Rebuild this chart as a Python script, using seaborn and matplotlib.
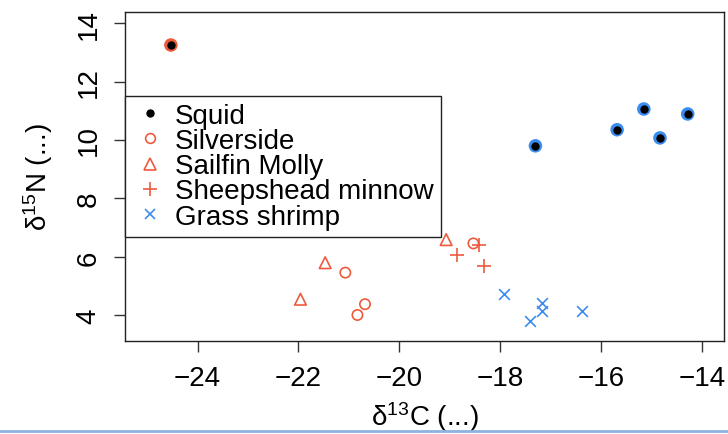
#!/usr/bin/env python3
"""Stable isotope biplot: d13C vs d15N for estuary species."""

import numpy as np
import pandas as pd
import matplotlib
matplotlib.use("Agg")
import matplotlib.pyplot as plt
from matplotlib.lines import Line2D
import seaborn as sns

# Data
squid_c = [-24.53, -17.30, -15.68, -15.15, -14.83, -14.28]
squid_n = [13.25, 9.80, 10.35, 11.06, 10.07, 10.89]
squid_ring = ["red", "blue", "blue", "blue", "blue", "blue"]

silverside_c = [-21.07, -20.83, -20.68, -18.53]
silverside_n = [5.46, 4.01, 4.38, 6.46]

molly_c = [-21.96, -21.47, -19.07]
molly_n = [4.55, 5.80, 6.59]

minnow_c = [-18.41, -18.86, -18.32]
minnow_n = [6.42, 6.08, 5.70]

shrimp_c = [-17.93, -17.40, -17.16, -17.17, -16.37]
shrimp_n = [4.72, 3.82, 4.41, 4.15, 4.15]

x_ticks = [-24, -22, -20, -18, -16, -14]
y_ticks = [4, 6, 8, 10, 12, 14]

RED = "#EE5A3C"
BLUE = "#3C8CF0"
FS = 20

sns.set_theme(style="ticks")
plt.rcParams["font.family"] = ["Liberation Sans", "DejaVu Sans"]
plt.rcParams["mathtext.default"] = "regular"
plt.rcParams["text.color"] = "black"
plt.rcParams["axes.labelcolor"] = "black"
plt.rcParams["xtick.color"] = "black"
plt.rcParams["ytick.color"] = "black"

fig = plt.figure(figsize=(7.28, 4.35), dpi=100)
ax = fig.add_axes([0.1717, 0.2138, 0.8228, 0.757])

# squid: coloured ring underneath, black dot on top
squid = pd.DataFrame({"c": squid_c, "n": squid_n, "ring": squid_ring})
sns.scatterplot(data=squid, x="c", y="n", hue="ring",
                palette={"red": RED, "blue": BLUE}, s=95, linewidth=0,
                legend=False, ax=ax, zorder=3)
sns.scatterplot(x=squid_c, y=squid_n, color="black", s=36, linewidth=0,
                ax=ax, zorder=4)

sns.scatterplot(x=silverside_c, y=silverside_n, marker="o", s=55,
                facecolor="none", edgecolor=RED, linewidth=1.2, ax=ax)
sns.scatterplot(x=molly_c, y=molly_n, marker="^", s=70,
                facecolor="none", edgecolor=RED, linewidth=1.2, ax=ax)
sns.scatterplot(x=minnow_c, y=minnow_n, marker="+", s=90,
                color=RED, linewidth=1.2, ax=ax)
sns.scatterplot(x=shrimp_c, y=shrimp_n, marker="x", s=60,
                color=BLUE, linewidth=1.2, ax=ax)

ax.set_xlim(-25.44, -13.56)
ax.set_ylim(3.12, 14.39)
ax.set_xticks(x_ticks)
ax.set_yticks(y_ticks)
ax.set_xticklabels([f"\u2212{abs(t)}" for t in x_ticks])
ax.set_yticklabels([str(t) for t in y_ticks], rotation=90, va="center")
ax.tick_params(axis="both", direction="out", length=8, width=1,
               color="#333333", labelsize=FS, pad=9)
for side in ["top", "right", "left", "bottom"]:
    ax.spines[side].set_visible(True)
    ax.spines[side].set_linewidth(1)
    ax.spines[side].set_color("#222222")

ax.set_xlabel("\u03b4$^{13}$C (...)", fontsize=FS, labelpad=6)
ax.set_ylabel("\u03b4$^{15}$N (...)", fontsize=FS, labelpad=15)

handles = [
    Line2D([], [], marker="o", linestyle="none", color="black", markersize=5),
    Line2D([], [], marker="o", linestyle="none", markerfacecolor="none",
           markeredgecolor=RED, markersize=7, markeredgewidth=1.2),
    Line2D([], [], marker="^", linestyle="none", markerfacecolor="none",
           markeredgecolor=RED, markersize=8, markeredgewidth=1.2),
    Line2D([], [], marker="+", linestyle="none", color=RED, markersize=10,
           markeredgewidth=1.2),
    Line2D([], [], marker="x", linestyle="none", color=BLUE, markersize=7,
           markeredgewidth=1.2),
]
labels = ["Squid", "Silverside", "Sailfin Molly", "Sheepshead minnow",
          "Grass shrimp"]
leg = ax.legend(handles, labels, loc="upper left", bbox_to_anchor=(0, 0.744),
                borderaxespad=0, fontsize=FS, labelspacing=-0.03,
                handletextpad=0.25, handlelength=1.3, borderpad=0.25,
                fancybox=False, framealpha=1, edgecolor="#222222")
leg.get_frame().set_linewidth(1)

# thin blue rule at the bottom edge of the screenshot
fig.add_artist(Line2D([0, 1], [0.006, 0.006], color="#8DB3E2", linewidth=2,
                      transform=fig.transFigure))

fig.savefig("out.png", dpi=100)
